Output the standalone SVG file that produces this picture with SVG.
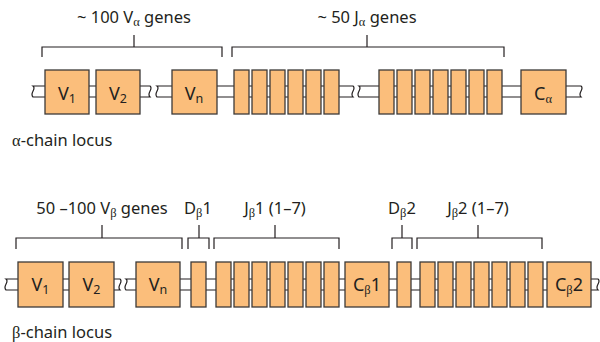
<svg xmlns="http://www.w3.org/2000/svg" width="600" height="342" viewBox="0 0 600 342">
<style>
.bx{fill:#FBBE7B;stroke:#3C3A38;stroke-width:1.3}
.st{fill:#fff;stroke:#231F20;stroke-width:1.2}
.br{fill:none;stroke:#231F20;stroke-width:1.2}
text{font-family:"Noto Sans","Open Sans",sans-serif;fill:#231F20}
.lb{font-size:16.5px;text-anchor:middle}
.bl{font-size:18px;text-anchor:middle}
.loc{font-size:16.5px}
.sb{font-size:12.5px}
.gk{font-family:"Liberation Serif","DejaVu Serif",serif}
</style>
<rect width="600" height="342" fill="#fff"/>
<g id="connectors">
<path class="st" d="M33,86 H150 C154,89 146,93 150,97 H33 C29,93 37,89 33,86 Z"/>
<path class="st" d="M157,86 H353 C357,89 349,93 353,97 H157 C153,93 161,89 157,86 Z"/>
<path class="st" d="M359,86 H581 C585,89 577,93 581,97 H359 C355,93 363,89 359,86 Z"/>
<path class="st" d="M6,279 H120 C124,282 116,286 120,290 H6 C2,286 10,282 6,279 Z"/>
<path class="st" d="M126,279 H598 C602,282 594,286 598,290 H126 C122,286 130,282 126,279 Z"/>
<path class="br" d="M42,57 V47 H222 V57 M134,47 V35"/>
<path class="br" d="M232,57 V47 H504 V57 M367,47 V35"/>
<path class="br" d="M16,249 V238 H182 V249 M102,238 V225"/>
<path class="br" d="M188,249 V238 H209 V249 M199,238 V225"/>
<path class="br" d="M214,249 V238 H339 V249 M275,238 V225"/>
<path class="br" d="M392,249 V238 H412 V249 M402,238 V225"/>
<path class="br" d="M417,249 V238 H542 V249 M478,238 V225"/>
</g>
<g id="alpha-locus">
<g id="aV1"><rect class="bx" x="45" y="70" width="44" height="44"/><text class="bl" x="67" y="100">V<tspan class="sb" dy="3">1</tspan></text></g>
<g id="aV2"><rect class="bx" x="96" y="70" width="44" height="44"/><text class="bl" x="118" y="100">V<tspan class="sb" dy="3">2</tspan></text></g>
<g id="aVn"><rect class="bx" x="172" y="70" width="45" height="44"/><text class="bl" x="194" y="100">V<tspan class="sb" dy="3">n</tspan></text></g>
<g id="aJ1">
<rect class="bx" x="234" y="70" width="15" height="44"/><rect class="bx" x="252" y="70" width="15" height="44"/><rect class="bx" x="270" y="70" width="15" height="44"/><rect class="bx" x="288" y="70" width="15" height="44"/><rect class="bx" x="306" y="70" width="15" height="44"/><rect class="bx" x="324" y="70" width="15" height="44"/>
</g>
<g id="aJ2">
<rect class="bx" x="379" y="70" width="15" height="44"/><rect class="bx" x="397" y="70" width="15" height="44"/><rect class="bx" x="415" y="70" width="15" height="44"/><rect class="bx" x="433" y="70" width="15" height="44"/><rect class="bx" x="451" y="70" width="15" height="44"/><rect class="bx" x="469" y="70" width="15" height="44"/><rect class="bx" x="487" y="70" width="15" height="44"/>
</g>
<g id="aC"><rect class="bx" x="521" y="70" width="45" height="44"/><text class="bl" x="543" y="100">C<tspan class="sb gk" dy="3">α</tspan></text></g>
<text class="lb" x="134" y="23">~ 100 V<tspan class="sb gk" dy="3">α</tspan><tspan dy="-3"> genes</tspan></text>
<text class="lb" x="367" y="23">~ 50 J<tspan class="sb gk" dy="3">α</tspan><tspan dy="-3"> genes</tspan></text>
<text class="loc" x="12" y="146"><tspan class="gk">α</tspan>-chain locus</text>
</g>
<g id="beta-locus">
<g id="bV1"><rect class="bx" x="18" y="262" width="45" height="45"/><text class="bl" x="40.5" y="291">V<tspan class="sb" dy="3">1</tspan></text></g>
<g id="bV2"><rect class="bx" x="69" y="262" width="45" height="45"/><text class="bl" x="91.5" y="291">V<tspan class="sb" dy="3">2</tspan></text></g>
<g id="bVn"><rect class="bx" x="136" y="262" width="44" height="45"/><text class="bl" x="158" y="291">V<tspan class="sb" dy="3">n</tspan></text></g>
<g id="bD1"><rect class="bx" x="191" y="262" width="15" height="45"/></g>
<g id="bJ1">
<rect class="bx" x="216" y="262" width="15" height="45"/><rect class="bx" x="234" y="262" width="15" height="45"/><rect class="bx" x="252" y="262" width="15" height="45"/><rect class="bx" x="270" y="262" width="15" height="45"/><rect class="bx" x="288" y="262" width="15" height="45"/><rect class="bx" x="306" y="262" width="15" height="45"/><rect class="bx" x="324" y="262" width="15" height="45"/>
</g>
<g id="bC1"><rect class="bx" x="345" y="262" width="44" height="45"/><text class="bl" x="367" y="291">C<tspan class="sb gk" dy="3">β</tspan><tspan dy="-3">1</tspan></text></g>
<g id="bD2"><rect class="bx" x="397" y="262" width="14" height="45"/></g>
<g id="bJ2">
<rect class="bx" x="420" y="262" width="15" height="45"/><rect class="bx" x="438" y="262" width="15" height="45"/><rect class="bx" x="456" y="262" width="15" height="45"/><rect class="bx" x="474" y="262" width="15" height="45"/><rect class="bx" x="492" y="262" width="15" height="45"/><rect class="bx" x="510" y="262" width="15" height="45"/><rect class="bx" x="528" y="262" width="15" height="45"/>
</g>
<g id="bC2"><rect class="bx" x="547" y="262" width="44" height="45"/><text class="bl" x="569" y="291">C<tspan class="sb gk" dy="3">β</tspan><tspan dy="-3">2</tspan></text></g>
<text class="lb" x="102" y="214">50 –100 V<tspan class="sb gk" dy="3">β</tspan><tspan dy="-3"> genes</tspan></text>
<text class="lb" x="198" y="214">D<tspan class="sb gk" dy="3">β</tspan><tspan dy="-3">1</tspan></text>
<text class="lb" x="275" y="214">J<tspan class="sb gk" dy="3">β</tspan><tspan dy="-3">1 (1–7)</tspan></text>
<text class="lb" x="402" y="214">D<tspan class="sb gk" dy="3">β</tspan><tspan dy="-3">2</tspan></text>
<text class="lb" x="478" y="214">J<tspan class="sb gk" dy="3">β</tspan><tspan dy="-3">2 (1–7)</tspan></text>
<text class="loc" x="12" y="338"><tspan class="gk">β</tspan>-chain locus</text>
</g>
</svg>
